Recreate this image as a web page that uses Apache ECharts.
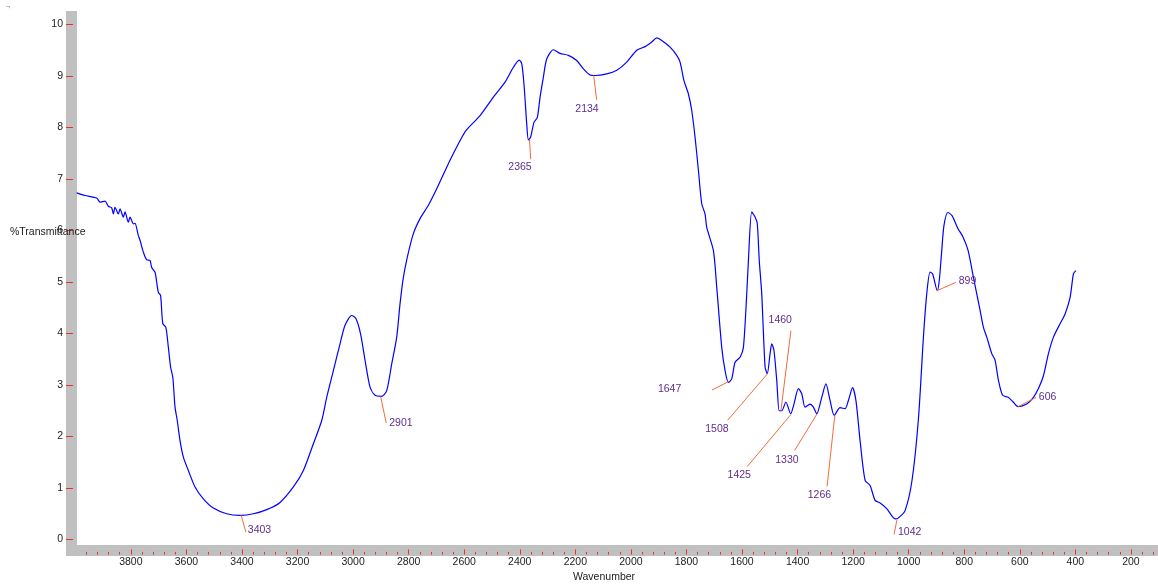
<!DOCTYPE html>
<html>
<head>
<meta charset="utf-8">
<script src="https://cdn.jsdelivr.net/npm/echarts@6/dist/echarts.min.js"></script>
<style>html,body{margin:0;padding:0;background:#fff}#c{width:1158px;height:585px}</style>
</head>
<body>
<div id="c"></div>
<script>
// ---------- DATA ----------
const wavenumbers = [3995,3965,3923,3911,3893,3881,3869,3863,3857,3845,3839,3827,3821,3809,3803,3791,3785,3773,3767,3755,3743,3731,3725,3713,3707,3701,3693,3685,3674,3665,3657,3649,3641,3633,3623,3611,3593,3569,3539,3503,3455,3407,3359,3311,3263,3215,3179,3143,3113,3095,3071,3047,3029,3005,2990,2973,2957,2939,2921,2897,2879,2861,2843,2831,2819,2805,2783,2759,2729,2699,2663,2627,2594,2543,2495,2453,2423,2402,2393,2385,2375,2369,2361,2349,2337,2327,2315,2303,2279,2255,2225,2195,2171,2147,2129,2087,2051,2015,1979,1949,1925,1907,1889,1859,1835,1823,1809,1793,1781,1769,1757,1745,1733,1727,1703,1691,1673,1661,1649,1637,1625,1607,1595,1583,1577,1565,1553,1545,1538,1529,1517,1509,1499,1493,1485,1475,1466,1457,1442,1425,1413,1397,1385,1373,1355,1343,1331,1313,1298,1283,1268,1247,1229,1217,1202,1190,1175,1157,1139,1121,1103,1079,1049,1037,1013,988,965,947,935,923,914,897,890,881,873,859,844,823,805,786,767,755,743,731,719,701,689,677,662,642,624,606,575,551,533,515,497,479,455,437,419,407,398];
const transmittance = [6.73,6.68,6.63,6.55,6.57,6.47,6.44,6.32,6.45,6.32,6.42,6.26,6.36,6.16,6.26,6.13,6.14,5.90,5.81,5.58,5.43,5.42,5.28,5.19,5.00,4.80,4.74,4.19,4.12,3.73,3.35,3.15,2.57,2.31,1.92,1.60,1.34,1.02,0.79,0.61,0.50,0.47,0.50,0.58,0.72,1.02,1.34,1.86,2.31,2.76,3.28,3.80,4.16,4.35,4.29,3.99,3.48,2.96,2.80,2.78,2.89,3.41,3.93,4.58,5.09,5.48,5.94,6.23,6.49,6.81,7.23,7.62,7.94,8.23,8.59,8.88,9.17,9.31,9.24,8.85,8.07,7.76,7.81,8.10,8.19,8.59,8.98,9.33,9.51,9.44,9.40,9.30,9.14,9.02,9.01,9.04,9.11,9.27,9.50,9.57,9.66,9.74,9.69,9.56,9.40,9.27,8.91,8.65,8.33,7.81,7.17,6.52,6.32,6.06,5.61,4.90,3.73,3.28,3.05,3.12,3.44,3.54,3.73,4.77,5.42,6.36,6.26,6.13,5.42,4.77,3.35,3.22,3.61,3.80,3.67,3.09,2.50,2.50,2.67,2.44,2.63,2.93,2.83,2.57,2.63,2.57,2.44,2.76,3.02,2.70,2.41,2.56,2.54,2.70,2.95,2.70,1.92,1.15,1.05,0.76,0.71,0.60,0.40,0.42,0.56,1.15,2.34,3.93,4.77,5.19,5.16,4.83,5.03,5.61,6.10,6.35,6.29,6.04,5.88,5.61,5.09,4.77,4.45,4.12,3.93,3.61,3.48,3.09,2.80,2.76,2.67,2.58,2.63,2.76,2.93,3.18,3.61,3.93,4.19,4.38,4.70,5.16,5.22];

const peakLabels = ['3403','2901','2365','2134','1647','1508','1460','1425','1330','1266','1042','899','606'];
const peakWavenumbers = [3403,2901,2365,2134,1647,1508,1460,1425,1330,1266,1042,899,606];
const peakTransmittance = [0.47,2.78,7.76,9.01,3.07,3.22,2.50,2.42,2.44,2.41,0.39,4.83,2.58];

const yTickValues = [0,1,2,3,4,5,6,7,8,9,10];

// ---------- LAYOUT (pixel offsets for callouts: line end dx,dy ; text dx,dy ; align) ----------
const calloutLayout = [
  [4.7,16.7, 2,-1.4,'left'],
  [5.6,26.6, 3,0,'left'],
  [1.2,19.3, 1,8.4,'right'],
  [3,24.3, 2,9,'right'],
  [-17,8.6, -30.7,-1,'right'],
  [-40,46.7, 1,9,'right'],
  [10,-80, 1,-10.7,'right'],
  [-43.4,51.7, 3.7,9,'right'],
  [-22.4,36.7, 4,9.3,'right'],
  [-7.7,71, 4,9,'right'],
  [-3,15, 4,-2,'left'],
  [19,-8.3, 3,-1,'left'],
  [18,-9.3, 2.7,-0.7,'left']
];

const FONT = '"Liberation Sans", Arial, sans-serif';
const TICK_RED = '#e8302a';
const spectrum = wavenumbers.map((w, i) => [w, transmittance[i]]);
const peaks = peakWavenumbers.map((w, i) => [w, peakTransmittance[i], i]);

const PLOT_LEFT = 75.3, PLOT_TOP = 24.5, PLOT_W = 1111.2, PLOT_H = 515;

const chart = echarts.init(document.getElementById('c'), null, {renderer: 'canvas'});
chart.setOption({
  animation: false,
  backgroundColor: '#ffffff',
  grid: [
    {left: PLOT_LEFT, top: PLOT_TOP, width: PLOT_W, height: PLOT_H, outerBoundsMode: 'none', containLabel: false},
    {left: PLOT_LEFT, top: 500, width: PLOT_W, height: 54.5, outerBoundsMode: 'none', containLabel: false},
    {left: 66, top: PLOT_TOP, width: 200, height: PLOT_H, outerBoundsMode: 'none', containLabel: false}
  ],
  xAxis: [
    {gridIndex: 0, type: 'value', inverse: true, min: 0, max: 4000, show: false},
    {
      gridIndex: 1, type: 'value', inverse: true, min: 0, max: 4000, interval: 200,
      axisLine: {show: false},
      axisTick: {show: true, inside: true, length: 5, lineStyle: {color: TICK_RED, width: 1}},
      minorTick: {show: true, splitNumber: 5, length: 2.6, lineStyle: {color: TICK_RED, width: 1}},
      splitLine: {show: false},
      axisLabel: {margin: 2.5, color: '#222', fontSize: 10.5, fontFamily: FONT, showMaxLabel: false, showMinLabel: false,
        formatter: v => (v === 4000 || v === 0) ? '' : String(v)}
    },
    {gridIndex: 2, type: 'value', min: 0, max: 1, show: false}
  ],
  yAxis: [
    {gridIndex: 0, type: 'value', min: 0, max: 10, show: false},
    {gridIndex: 1, type: 'value', min: 0, max: 1, show: false},
    {
      gridIndex: 2, type: 'value', min: 0, max: 10, interval: 1,
      axisLine: {show: false},
      axisTick: {show: true, inside: true, length: 7, lineStyle: {color: TICK_RED, width: 1}},
      splitLine: {show: false},
      axisLabel: {margin: 3, color: '#222', fontSize: 10.5, fontFamily: FONT,
        formatter: v => yTickValues.indexOf(v) >= 0 ? String(v) : ''}
    }
  ],
  graphic: [
    {type: 'rect', z: -10, shape: {x: 66, y: 11, width: 11, height: 545}, style: {fill: '#c0c0c0'}, silent: true},
    {type: 'rect', z: -10, shape: {x: 66, y: 545, width: 1092, height: 11}, style: {fill: '#c0c0c0'}, silent: true},
    {type: 'rect', z: 50, shape: {x: 66, y: 545, width: 12, height: 11}, style: {fill: '#c0c0c0'}, silent: true},
    {type: 'text', z: 60, left: 10, top: 227, style: {text: '%Transmittance', fill: '#222', font: '10.5px ' + FONT}},
    {type: 'text', z: 60, left: 573, top: 572, style: {text: 'Wavenumber', fill: '#222', font: '10.5px ' + FONT}},
    {type: 'text', z: 60, left: 6, top: 4, style: {text: '¬', fill: '#777', font: '7px ' + FONT}}
  ],
  series: [
    {
      type: 'line', xAxisIndex: 0, yAxisIndex: 0, data: spectrum, showSymbol: false, smooth: 0.25,
      lineStyle: {color: '#0000ff', width: 1.2}, clip: true, z: 3
    },
    {
      type: 'custom', xAxisIndex: 0, yAxisIndex: 0, data: peaks, clip: false, z: 4,
      encode: {x: 0, y: 1},
      renderItem: function (params, api) {
        const i = api.value(2);
        const p = api.coord([api.value(0), api.value(1)]);
        const L = calloutLayout[i];
        const ex = p[0] + L[0], ey = p[1] + L[1];
        return {
          type: 'group',
          children: [
            {type: 'line', shape: {x1: p[0], y1: p[1], x2: ex, y2: ey}, style: {stroke: '#f26b3a', lineWidth: 1}},
            {type: 'text', x: ex + L[2], y: ey + L[3], style: {text: peakLabels[i], fill: '#5e2d8c', font: '10.5px ' + FONT, align: L[4], verticalAlign: 'middle'}}
          ]
        };
      }
    }
  ]
});
</script>
</body>
</html>
